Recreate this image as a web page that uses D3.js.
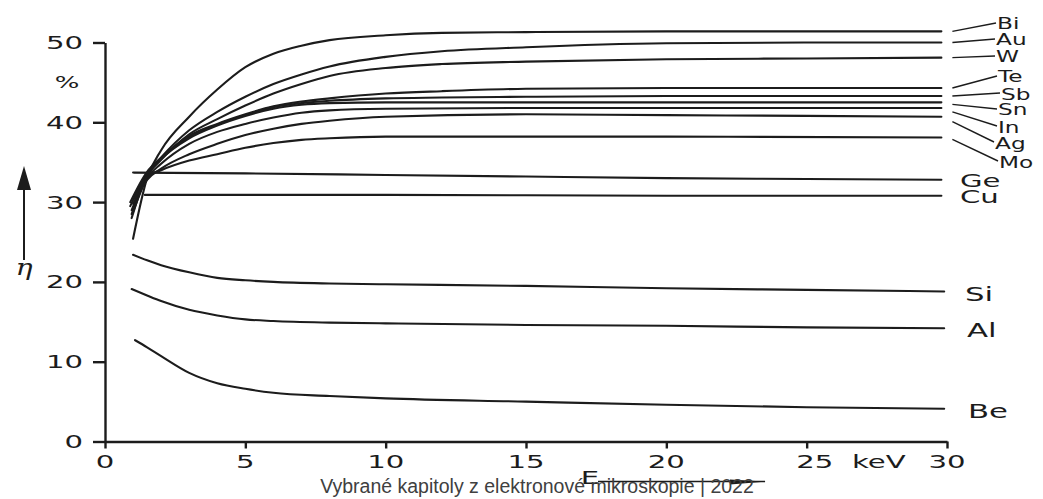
<!DOCTYPE html>
<html><head><meta charset="utf-8">
<script src="https://cdnjs.cloudflare.com/ajax/libs/d3/7.8.5/d3.min.js"></script>
<style>
html,body{margin:0;padding:0;background:#fff;}
svg{display:block;}
</style></head><body>
<svg id="chart" width="1043" height="499"></svg>
<script>
// ---------- data (energy E in keV, backscatter coefficient eta in %) ----------
const elementNames = ["Bi","Au","W","Te","Sb","Sn","In","Ag","Mo","Ge","Cu","Si","Al","Be"];
const bi = [[1.0,25.4],[1.5,33.0],[2,36.5],[3,40.7],[4,44.1],[5,46.9],[6,48.6],[7,49.6],[8,50.3],[10,50.9],[12,51.2],[15,51.3],[20,51.4],[29.8,51.4]];
const au = [[0.95,28.0],[1.5,33.5],[2,35.6],[3,39.0],[4,41.3],[5,43.2],[6,44.8],[7,46.0],[8,47.0],[10,48.2],[12,48.9],[15,49.4],[20,49.9],[25,50.0],[29.8,50.0]];
const w  = [[0.95,29.0],[1.5,33.3],[2,35.3],[3,38.5],[4,40.4],[5,42.1],[6,43.6],[7,44.8],[8,45.8],[10,46.8],[12,47.3],[15,47.6],[20,47.9],[25,48.0],[29.8,48.1]];
const te = [[0.9,29.5],[1.5,33.6],[2,35.5],[3,38.3],[4,39.8],[5,41.0],[6,42.0],[7,42.6],[8,43.0],[10,43.6],[12,43.9],[15,44.2],[20,44.3],[29.8,44.3]];
const sb = [[0.9,30.0],[1.5,33.8],[2,35.5],[3,38.2],[4,39.7],[5,40.9],[6,41.9],[7,42.4],[8,42.7],[10,43.0],[12,43.1],[15,43.2],[20,43.3],[29.8,43.3]];
const sn = [[0.95,28.5],[1.5,33.4],[2,35.4],[3,38.0],[4,39.6],[5,40.8],[6,41.7],[7,42.2],[8,42.4],[10,42.5],[15,42.5],[20,42.5],[29.8,42.5]];
const inn= [[1.0,28.8],[1.5,33.0],[2,34.8],[3,37.3],[4,38.8],[5,39.8],[6,40.6],[7,41.2],[8,41.5],[10,41.7],[15,41.8],[20,41.8],[29.8,41.8]];
const ag = [[1.0,29.8],[1.5,32.8],[2,34.2],[3,36.0],[4,37.3],[5,38.4],[6,39.2],[7,39.8],[8,40.2],[10,40.7],[15,41.0],[20,40.9],[25,40.8],[29.8,40.7]];
const mo = [[1.05,30.5],[1.5,33.2],[2,34.0],[3,35.2],[4,36.0],[5,36.8],[6,37.4],[7,37.8],[8,38.0],[10,38.2],[15,38.2],[20,38.2],[29.8,38.1]];
const ge = [[1.0,33.7],[5,33.6],[10,33.4],[15,33.2],[20,33.0],[25,32.9],[29.8,32.8]];
const cu = [[1.42,30.9],[10,30.9],[20,30.8],[29.8,30.8]];
const si = [[1.0,23.4],[1.5,22.7],[2,22.1],[3,21.2],[4,20.5],[5,20.2],[6,20.0],[8,19.8],[10,19.7],[15,19.5],[20,19.2],[25,19.0],[29.9,18.8]];
const al = [[0.95,19.1],[1.5,18.3],[2,17.6],[3,16.5],[4,15.8],[5,15.3],[6,15.1],[8,14.9],[10,14.8],[15,14.6],[20,14.5],[25,14.3],[29.9,14.2]];
const be = [[1.07,12.7],[1.5,11.8],[2,10.7],[3,8.6],[4,7.3],[5,6.6],[6,6.1],[8,5.7],[10,5.4],[15,5.0],[20,4.6],[25,4.3],[29.9,4.1]];
const seriesList = [bi,au,w,te,sb,sn,inn,ag,mo,ge,cu,si,al,be];

const xTicks = [0,5,10,15,20,25,30];
const xTickLabels = ["0","5","10","15","20","25","30"];
const yTicks = [0,10,20,30,40,50];
const yTickLabels = ["0","10","20","30","40","50"];
const xUnit = "keV";
const xName = "E";
const yName = "η";
const yUnit = "%";
const caption = "Vybrané kapitoly z elektronové mikroskopie | 2022";

// ---------- layout (label placement, pixels) ----------
// [labelX, labelBaseline, fontSize, leaderStartDy, leaderEndDy] ; leader null => no leader
const labelLayout = {
  Bi:[997,29,15.5,0,-6], Au:[996,45,15.5,0,-6], W:[996,62,15.5,0,-6], Te:[998,82,15.5,0,-6],
  Sb:[1001,100,15.5,0,-7], Sn:[998,115,15.5,2,-6], In:[998,133,15.5,4,-7], Ag:[995,149,15.5,5,-7],
  Mo:[999,168,15.5,2,-7], Ge:[960,187,18,null,null], Cu:[960,203,18,null,null],
  Si:[965,301,19,null,null], Al:[967,337,19,null,null], Be:[968,418,19,null,null]
};
const xLabelShift = {25: 8};
const SX = 1.62; // horizontal stretch of the scanned lettering
const ink = "#1c1c1c";
const FONT = "'DejaVu Sans', sans-serif";

const svg = d3.select("#chart");
const x = d3.scaleLinear().domain([0,30]).range([105,947]);
const y = d3.scaleLinear().domain([0,50]).range([441.5,42.5]);

function stext(g, px, py, str, size, anchor, sx, extra){
  const t = g.append("text")
    .attr("transform", `translate(${px},${py}) scale(${sx},1)`)
    .attr("text-anchor", anchor)
    .attr("font-family", extra && extra.family ? extra.family : FONT)
    .attr("font-size", size)
    .attr("fill", ink)
    .text(str);
  if (extra && extra.style) t.attr("font-style", extra.style);
  return t;
}

// axes
const yAxis = d3.axisLeft(y).tickValues(yTicks).tickSize(12).tickSizeOuter(0).tickFormat("");
const gy = svg.append("g").attr("transform","translate(105,0)").call(yAxis);
const xAxis = d3.axisBottom(x).tickValues(xTicks).tickSize(7).tickSizeOuter(0).tickFormat("");
const gx = svg.append("g").attr("transform",`translate(0,${y(0)})`).call(xAxis);
[gx,gy].forEach(g=>{
  g.selectAll("path,line").attr("stroke",ink).attr("stroke-width",2.4);
});

// tick labels
const labels = svg.append("g");
yTicks.forEach((v,i)=> stext(labels, 83, y(v)+6.5, yTickLabels[i], 18, "end", SX));
xTicks.forEach((v,i)=>{
  stext(labels, x(v) + (xLabelShift[v]||0), 468, xTickLabels[i], 18, "middle", SX);
});
stext(labels, 852, 468, xUnit, 18, "start", SX);
stext(labels, 67, 88, yUnit, 16, "middle", SX);

// eta label and arrow
stext(labels, 24, 275, yName, 22, "middle", 1.3, {family:"'DejaVu Serif', serif", style:"italic"});
const arr = svg.append("g");
arr.append("line").attr("x1",24).attr("x2",24).attr("y1",260).attr("y2",186)
  .attr("stroke",ink).attr("stroke-width",2);
arr.append("path").attr("d","M24,166 L31,190 L17,190 Z").attr("fill",ink);

// E label and arrow
stext(labels, 590, 484, xName, 18, "middle", SX);
arr.append("line").attr("x1",598).attr("x2",765).attr("y1",481.5).attr("y2",481.5)
  .attr("stroke",ink).attr("stroke-width",1.6);
arr.append("path").attr("d","M730,479.5 L766,481.5 L730,484.5 Z").attr("fill",ink);

// curves
const line = d3.line().x(d=>x(d[0])).y(d=>y(d[1])).curve(d3.curveMonotoneX);
svg.append("g").selectAll("path").data(seriesList).join("path")
  .attr("d", line).attr("fill","none").attr("stroke",ink)
  .attr("stroke-width",2.1).attr("stroke-linecap","round");

// element labels + leaders
const lg = svg.append("g");
elementNames.forEach((name,i)=>{
  const L = labelLayout[name];
  const s = seriesList[i];
  const last = s[s.length-1];
  if (L[3] !== null) {
    lg.append("line")
      .attr("x1", x(last[0]) + 11).attr("y1", y(last[1]) + L[3])
      .attr("x2", L[0] - 1).attr("y2", L[1] + L[4])
      .attr("stroke", ink).attr("stroke-width", 1.4);
  }
  stext(lg, L[0], L[1], name, L[2], "start", L[2] < 17 ? 1.5 : SX);
});

// caption
svg.append("text").attr("x",537).attr("y",493).attr("text-anchor","middle")
  .attr("font-family","'Liberation Sans', Arial, sans-serif").attr("font-size",19.5)
  .attr("fill","#404040").text(caption);
</script>
</body></html>
